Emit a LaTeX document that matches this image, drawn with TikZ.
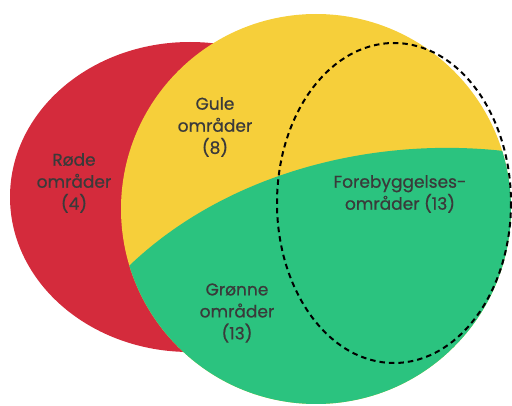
\documentclass[tikz,border=0pt]{standalone}
\usepackage{fontspec}
\setmainfont{Poppins}
\newfontfamily\omrfont{Poppins}[FakeBold=0.7]
\usepackage{xcolor}
\usepackage{tikz}
\definecolor{rod}{HTML}{D42B3C}
\definecolor{gul}{HTML}{F6CF3A}
\definecolor{gronn}{HTML}{2BC37F}
\definecolor{tekst}{HTML}{3A3A3A}
\tikzset{omr/.style={align=center, text=tekst, inner sep=0pt,
  font=\omrfont\fontsize{17}{22}\selectfont}}
\tikzset{grense/.style={line width=2pt, dash pattern=on 5.5pt off 4pt}}

\begin{document}
\begin{tikzpicture}[x=1pt, y=-1pt]
\useasboundingbox (0,0) rectangle (512,406);

\fill[rod] (190,197) ellipse [x radius=180, y radius=155];
\fill[gul] (316,209) circle [radius=195];
\begin{scope}
\clip (316,209) circle [radius=195];
\fill[gronn] (100,294) -- (130,265) .. controls (230,170) and (380,135) .. (512,152)
  -- (530,155) -- (530,420) -- (100,420) -- cycle;
\end{scope}

\draw[grense] (394,203) ellipse [x radius=117, y radius=160];

\node[omr] (rode) at (74,183) {Røde\\områder\\(4)};
\node[omr] (gule) at (215,127) {Gule\\områder\\(8)};
\node[omr] (forebygg) at (400,194) {Forebyggelses-\\områder (13)};
\node[omr] (gronne) at (237,313) {Grønne\\områder\\(13)};
\end{tikzpicture}
\end{document}
